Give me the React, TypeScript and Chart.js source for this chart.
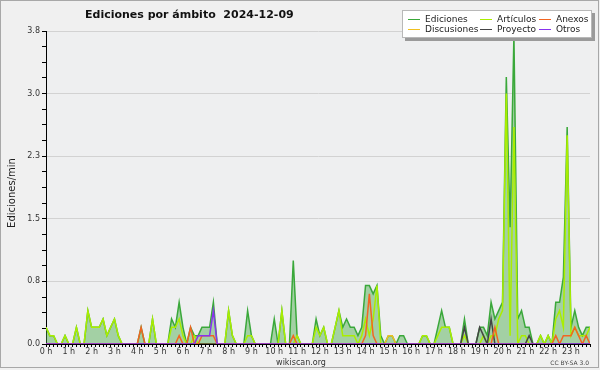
import { useEffect, useRef } from 'react';
import { Chart, registerables } from 'chart.js';

Chart.register(...registerables);

// 10-minute slots (0:00 .. 23:50), values in edits/minute
const ediciones = [
  0.2, 0.1, 0.1, 0, 0, 0.1, 0, 0, 0.2, 0, 0, 0.4,
  0.2, 0.2, 0.2, 0.3, 0.1, 0.2, 0.3, 0.1, 0, 0, 0, 0,
  0, 0.2, 0, 0, 0.3, 0, 0, 0, 0, 0.3, 0.2, 0.5,
  0.2, 0, 0.2, 0.1, 0.1, 0.2, 0.2, 0.2, 0.5, 0, 0, 0,
  0.4, 0.1, 0, 0, 0, 0.4, 0.1, 0, 0, 0, 0, 0,
  0.3, 0, 0.4, 0, 0, 1.0, 0.1, 0, 0, 0, 0, 0.3,
  0.1, 0.2, 0, 0, 0.2, 0.4, 0.2, 0.3, 0.2, 0.2, 0.1, 0.2,
  0.7, 0.7, 0.6, 0.7, 0.1, 0, 0.1, 0.1, 0, 0.1, 0.1, 0,
  0, 0, 0, 0.1, 0.1, 0, 0, 0.2, 0.4, 0.2, 0.2, 0,
  0, 0, 0.3, 0, 0, 0, 0.2, 0.2, 0.1, 0.5, 0.3, 0.4,
  0.5, 3.2, 1.4, 3.7, 0.3, 0.4, 0.2, 0.2, 0, 0, 0.1, 0,
  0.1, 0, 0.5, 0.5, 0.8, 2.6, 0.2, 0.4, 0.2, 0.1, 0.2, 0.2,
];

const articulos = [
  0.2, 0.1, 0.1, 0, 0, 0.1, 0, 0, 0.2, 0, 0, 0.4,
  0.2, 0.2, 0.2, 0.3, 0.1, 0.2, 0.3, 0.1, 0, 0, 0, 0,
  0, 0, 0, 0, 0.3, 0, 0, 0, 0, 0.2, 0.2, 0.3,
  0.1, 0, 0, 0.1, 0, 0, 0, 0, 0, 0, 0, 0,
  0.4, 0.1, 0, 0, 0, 0.1, 0.1, 0, 0, 0, 0, 0,
  0, 0, 0.4, 0, 0, 0, 0.1, 0, 0, 0, 0, 0.2,
  0.1, 0.2, 0, 0, 0.2, 0.4, 0.1, 0.1, 0.1, 0.1, 0, 0.1,
  0.3, 0.1, 0.3, 0.7, 0, 0, 0, 0, 0, 0, 0, 0,
  0, 0, 0, 0.1, 0.1, 0, 0, 0.1, 0.2, 0.2, 0.2, 0,
  0, 0, 0.1, 0, 0, 0, 0, 0.1, 0, 0.1, 0.1, 0.3,
  0.4, 3.0, 0.1, 2.6, 0, 0.1, 0.1, 0, 0, 0, 0.1, 0,
  0.1, 0, 0.3, 0.4, 0.2, 2.5, 0.1, 0.2, 0.1, 0.1, 0.1, 0.2,
];

const anexos = [
  0, 0, 0, 0, 0, 0, 0, 0, 0, 0, 0, 0,
  0, 0, 0, 0, 0, 0, 0, 0, 0, 0, 0, 0,
  0, 0.2, 0, 0, 0, 0, 0, 0, 0, 0, 0, 0.1,
  0, 0, 0.2, 0, 0, 0.1, 0.1, 0.1, 0.1, 0, 0, 0,
  0, 0, 0, 0, 0, 0, 0, 0, 0, 0, 0, 0,
  0, 0, 0, 0, 0, 0.1, 0, 0, 0, 0, 0, 0,
  0, 0, 0, 0, 0, 0, 0, 0, 0, 0, 0, 0,
  0.1, 0.6, 0.1, 0, 0, 0, 0, 0, 0, 0, 0, 0,
  0, 0, 0, 0, 0, 0, 0, 0, 0, 0, 0, 0,
  0, 0, 0, 0, 0, 0, 0, 0, 0, 0, 0.2, 0,
  0, 0, 0, 0, 0, 0, 0, 0, 0, 0, 0, 0,
  0, 0, 0.1, 0, 0.1, 0.1, 0.1, 0.2, 0.1, 0, 0.1, 0,
];

const discusiones = [
  0, 0, 0, 0, 0, 0, 0, 0, 0, 0, 0, 0,
  0, 0, 0, 0, 0, 0, 0, 0, 0, 0, 0, 0,
  0, 0, 0, 0, 0, 0, 0, 0, 0, 0, 0, 0,
  0, 0, 0, 0, 0, 0, 0, 0, 0, 0, 0, 0,
  0, 0, 0, 0, 0, 0, 0, 0, 0, 0, 0, 0,
  0, 0, 0, 0, 0, 0, 0, 0, 0, 0, 0, 0,
  0, 0, 0, 0, 0, 0, 0, 0, 0, 0, 0, 0,
  0, 0, 0, 0, 0, 0, 0.1, 0.1, 0, 0, 0, 0,
  0, 0, 0, 0, 0, 0, 0, 0, 0, 0, 0, 0,
  0, 0, 0, 0, 0, 0, 0, 0, 0, 0, 0, 0,
  0, 0, 0, 0, 0, 0, 0, 0, 0, 0, 0, 0,
  0, 0, 0, 0, 0, 0, 0, 0, 0, 0, 0, 0,
];

const proyecto = [
  0, 0, 0, 0, 0, 0, 0, 0, 0, 0, 0, 0,
  0, 0, 0, 0, 0, 0, 0, 0, 0, 0, 0, 0,
  0, 0, 0, 0, 0, 0, 0, 0, 0, 0, 0, 0,
  0, 0, 0, 0, 0, 0, 0, 0, 0, 0, 0, 0,
  0, 0, 0, 0, 0, 0, 0, 0, 0, 0, 0, 0,
  0, 0, 0, 0, 0, 0, 0, 0, 0, 0, 0, 0,
  0, 0, 0, 0, 0, 0, 0, 0, 0, 0, 0, 0,
  0, 0, 0, 0, 0, 0, 0, 0, 0, 0, 0, 0,
  0, 0, 0, 0, 0, 0, 0, 0, 0, 0, 0, 0,
  0, 0, 0.2, 0, 0, 0, 0.2, 0.1, 0, 0.3, 0, 0,
  0, 0, 0, 0, 0, 0, 0, 0.1, 0, 0, 0, 0,
  0, 0, 0, 0, 0, 0, 0, 0, 0, 0, 0, 0,
];

const otros = [
  0, 0, 0, 0, 0, 0, 0, 0, 0, 0, 0, 0,
  0, 0, 0, 0, 0, 0, 0, 0, 0, 0, 0, 0,
  0, 0, 0, 0, 0, 0, 0, 0, 0, 0, 0, 0,
  0, 0, 0, 0, 0.1, 0.1, 0.1, 0.1, 0.4, 0, 0, 0,
  0, 0, 0, 0, 0, 0, 0, 0, 0, 0, 0, 0,
  0, 0, 0, 0, 0, 0, 0, 0, 0, 0, 0, 0,
  0, 0, 0, 0, 0, 0, 0, 0, 0, 0, 0, 0,
  0, 0, 0, 0, 0, 0, 0, 0, 0, 0, 0, 0,
  0, 0, 0, 0, 0, 0, 0, 0, 0, 0, 0, 0,
  0, 0, 0, 0, 0, 0, 0, 0, 0, 0, 0, 0,
  0, 0, 0, 0, 0, 0, 0, 0, 0, 0, 0, 0,
  0, 0, 0, 0, 0, 0, 0, 0, 0, 0, 0, 0,
];

const hourLabels = [
  '0 h', '1 h', '2 h', '3 h', '4 h', '5 h', '6 h', '7 h', '8 h', '9 h', '10 h', '11 h',
  '12 h', '13 h', '14 h', '15 h', '16 h', '17 h', '18 h', '19 h', '20 h', '21 h', '22 h', '23 h',
];
const slotsPerHour = 6;
const yMax = 3.75;
const yStep = 0.1875;

const titleText = 'Ediciones por ámbito  2024-12-09';
const yTitle = 'Ediciones/min';

const seriesNames = ['Ediciones', 'Artículos', 'Anexos', 'Discusiones', 'Proyecto', 'Otros'];
const seriesColors: Record<string, string> = {
  Ediciones: '#3aa83a',
  'Artículos': '#aaee00',
  Anexos: '#f26522',
  Discusiones: '#f0c020',
  Proyecto: '#444444',
  Otros: '#8833ee',
};

const toPoints = (arr: number[]) => arr.map((v, i) => ({ x: i, y: v }));

const FONT = '"DejaVu Sans", sans-serif';

const decorPlugin = {
  id: 'decor',
  beforeDraw(chart: any) {
    const { ctx, chartArea } = chart;
    ctx.save();
    ctx.fillStyle = '#f0f0f0';
    ctx.fillRect(0, 0, chart.width, chart.height);
    ctx.fillStyle = '#eeeff0';
    ctx.fillRect(chartArea.left, chartArea.top, chartArea.right - chartArea.left, chartArea.bottom - chartArea.top);
    ctx.strokeStyle = '#a8a8a8';
    ctx.lineWidth = 1;
    ctx.strokeRect(0.5, 0.5, 598, 367);
    ctx.restore();
  },
  afterDraw(chart: any) {
    const { ctx } = chart;
    ctx.save();
    // title
    ctx.fillStyle = '#111';
    ctx.font = `bold 11px ${FONT}`;
    ctx.textAlign = 'left';
    ctx.textBaseline = 'alphabetic';
    ctx.fillText(titleText, 85, 18);
    // y title
    ctx.save();
    ctx.translate(12, 193);
    ctx.rotate(-Math.PI / 2);
    ctx.font = `10px ${FONT}`;
    ctx.textAlign = 'center';
    ctx.textBaseline = 'middle';
    ctx.fillStyle = '#222';
    ctx.fillText(yTitle, 0, 0);
    ctx.restore();
    // footer
    ctx.fillStyle = '#333';
    ctx.font = `8px ${FONT}`;
    ctx.textAlign = 'center';
    ctx.fillText('wikiscan.org', 301, 365);
    ctx.font = `6px ${FONT}`;
    ctx.textAlign = 'right';
    ctx.fillStyle = '#444';
    ctx.fillText('CC BY-SA 3.0', 589, 365);
    // legend
    const bx = 402, by = 10, bw = 190, bh = 28;
    ctx.fillStyle = '#9a9a9a';
    ctx.fillRect(bx + 3, by + 3, bw, bh);
    ctx.fillStyle = '#ffffff';
    ctx.fillRect(bx, by, bw, bh);
    ctx.strokeStyle = '#b8b8b8';
    ctx.strokeRect(bx + 0.5, by + 0.5, bw - 1, bh - 1);
    const cols = [408, 480, 539];
    const rows = [19.5, 29.5];
    ctx.font = `9px ${FONT}`;
    ctx.textAlign = 'left';
    ctx.textBaseline = 'middle';
    seriesNames.forEach((name, k) => {
      const c = k % 3;
      const r = Math.floor(k / 3);
      const lx = cols[c];
      const ly = rows[r];
      ctx.strokeStyle = seriesColors[name];
      ctx.lineWidth = 1;
      ctx.beginPath();
      ctx.moveTo(lx, ly);
      ctx.lineTo(lx + 12, ly);
      ctx.stroke();
      ctx.fillStyle = '#222';
      ctx.fillText(name, lx + 17, ly);
    });
    ctx.restore();
  },
};

export default function App() {
  const ref = useRef<HTMLCanvasElement | null>(null);
  useEffect(() => {
    if (!ref.current) return;
    const mk = (label: string, data: number[], order: number, extra: any = {}) => ({
      label,
      data: toPoints(data),
      borderColor: seriesColors[label],
      borderWidth: 1.5,
      pointRadius: 0,
      tension: 0,
      fill: false,
      order,
      ...extra,
    });
    const chart = new Chart(ref.current, {
      type: 'line',
      data: {
        datasets: [
          mk('Ediciones', ediciones, 6, { fill: 'origin', backgroundColor: 'rgba(70,170,70,0.45)' }),
          mk('Artículos', articulos, 5),
          mk('Discusiones', discusiones, 4),
          mk('Proyecto', proyecto, 3),
          mk('Anexos', anexos, 2),
          mk('Otros', otros, 1),
        ],
      },
      options: {
        animation: false,
        responsive: false,
        devicePixelRatio: 1,
        layout: { padding: { top: 31, right: 10, left: 0, bottom: 0 } },
        plugins: { legend: { display: false }, tooltip: { enabled: false }, title: { display: false } },
        scales: {
          x: {
            type: 'linear',
            min: 0,
            max: ediciones.length - 1,
            z: 1,
            afterFit: (axis: any) => { axis.height = 26; },
            grid: { drawOnChartArea: false, color: '#000', tickColor: '#000', tickLength: 3 },
            border: { display: true, color: '#000', width: 1 },
            ticks: {
              stepSize: 1,
              autoSkip: false,
              maxRotation: 0,
              minRotation: 0,
              padding: 0,
              color: '#333',
              font: { family: 'DejaVu Sans', size: 8 },
              callback: (v: any) => {
                const n = Math.round(Number(v));
                return n % slotsPerHour === 0 ? hourLabels[n / slotsPerHour] : '';
              },
            },
          },
          y: {
            type: 'linear',
            min: 0,
            max: yMax,
            afterFit: (axis: any) => { axis.width = 46; },
            grid: {
              color: (c: any) => (c.index % 4 === 0 && c.index > 0 ? '#d2d2d2' : 'rgba(0,0,0,0)'),
              tickColor: '#000',
              tickLength: 4,
            },
            border: { display: true, color: '#000', width: 1 },
            ticks: {
              stepSize: yStep,
              autoSkip: false,
              padding: 2,
              color: '#333',
              font: { family: 'DejaVu Sans', size: 8 },
              callback: (v: any, i: number) => (i % 4 === 0 ? Number(v).toFixed(1) : ''),
            },
          },
        },
      },
      plugins: [decorPlugin],
    } as any);
    return () => chart.destroy();
  }, []);
  return (
    <div style={{ position: 'absolute', left: 0, top: 0, width: 600, height: 370 }}>
      <canvas ref={ref} width={600} height={370} style={{ width: 600, height: 370, display: 'block' }} />
    </div>
  );
}
